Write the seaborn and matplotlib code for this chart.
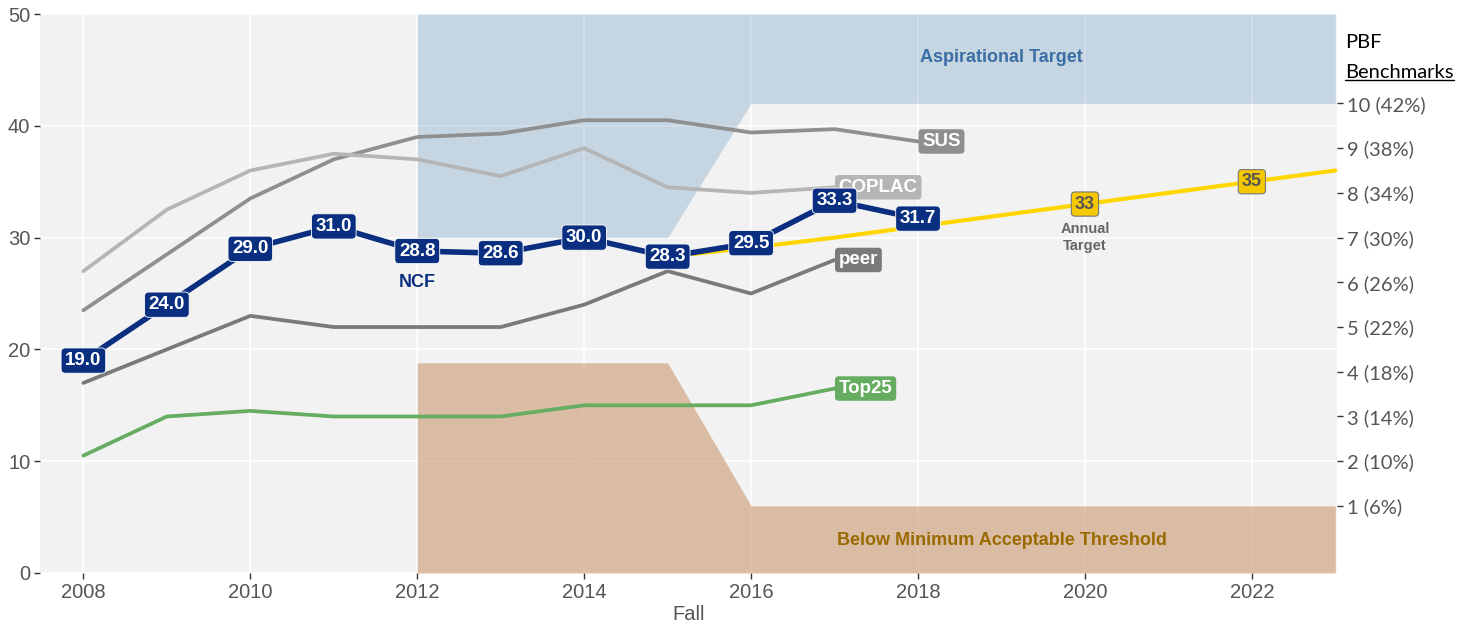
import numpy as np
import pandas as pd
import matplotlib.pyplot as plt
import seaborn as sns
from matplotlib.lines import Line2D

# data
years = list(range(2008, 2019))
ncf = [19.0, 24.0, 29.0, 31.0, 28.8, 28.6, 30.0, 28.3, 29.5, 33.3, 31.7]
sus = [23.5, 28.5, 33.5, 37.0, 39.0, 39.3, 40.5, 40.5, 39.4, 39.7, 38.6]
years_short = list(range(2008, 2018))
coplac = [27.0, 32.5, 36.0, 37.5, 37.0, 35.5, 38.0, 34.5, 34.0, 34.5]
peer = [17.0, 20.0, 23.0, 22.0, 22.0, 22.0, 24.0, 27.0, 25.0, 28.0]
top25 = [10.5, 14.0, 14.5, 14.0, 14.0, 14.0, 15.0, 15.0, 15.0, 16.5]
target_years = list(range(2015, 2024))
target = [28.3, 29.1, 30.0, 31.0, 32.0, 33.0, 34.0, 35.0, 36.0]
target_labeled = {2020: 33, 2022: 35}

band_x = [2012, 2015, 2016, 2023]
aspir_low = [30, 30, 42, 42]
below_high = [18.8, 18.8, 6, 6]

pbf_pos = [6, 10, 14, 18, 22, 26, 30, 34, 38, 42]
pbf_labels = ["1 (6%)", "2 (10%)", "3 (14%)", "4 (18%)", "5 (22%)",
              "6 (26%)", "7 (30%)", "8 (34%)", "9 (38%)", "10 (42%)"]

colors = {"SUS": "#8f8f8f", "COPLAC": "#b5b5b5", "peer": "#7a7a7a",
          "Top25": "#66ad62", "NCF": "#0a2f80", "target": "#ffd700"}

sns.set_theme(style="darkgrid", rc={"axes.facecolor": "#f2f2f2",
                                    "grid.color": "white", "grid.linewidth": 1.2})
plt.rcParams["font.family"] = ["Liberation Sans", "DejaVu Sans"]

others = pd.concat([
    pd.DataFrame({"year": years, "value": sus, "group": "SUS"}),
    pd.DataFrame({"year": years_short, "value": coplac, "group": "COPLAC"}),
    pd.DataFrame({"year": years_short, "value": peer, "group": "peer"}),
    pd.DataFrame({"year": years_short, "value": top25, "group": "Top25"}),
])

fig = plt.figure(figsize=(14.67, 6.26), dpi=100)
ax = fig.add_axes([40 / 1467, 1 - 573 / 626, 1297 / 1467, 559 / 626])

ax.fill_between(band_x, aspir_low, 50, color="#4682b4", alpha=0.25, lw=0, zorder=1)
ax.fill_between(band_x, 0, below_high, color="#c69062", alpha=0.55, lw=0, zorder=1)

sns.lineplot(data=others, x="year", y="value", hue="group", palette=colors,
             linewidth=2.7, legend=False, ax=ax, zorder=3)
sns.lineplot(x=target_years, y=target, color=colors["target"], linewidth=3,
             ax=ax, zorder=4)
sns.lineplot(x=years, y=ncf, color=colors["NCF"], linewidth=4, ax=ax, zorder=5)

for x, v in zip(years, ncf):
    ax.text(x, v, f"{v:.1f}", ha="center", va="center", color="white",
            fontsize=13.5, fontweight="bold", zorder=7,
            bbox=dict(boxstyle="round,pad=0.22", fc=colors["NCF"], ec="white", lw=0.6))

for x, v in target_labeled.items():
    ax.text(x, v, f"{v}", ha="center", va="center", color="#555555",
            fontsize=13, fontweight="bold", zorder=7,
            bbox=dict(boxstyle="round,pad=0.2", fc="#f5c800", ec="#777777", lw=0.8))

end_labels = [("SUS", 2018, sus[-1]), ("COPLAC", 2017, coplac[-1]),
              ("peer", 2017, peer[-1]), ("Top25", 2017, top25[-1])]
for name, x, v in end_labels:
    ax.text(x + 0.05, v, name, ha="left", va="center", color="white",
            fontsize=13.5, fontweight="bold", zorder=6,
            bbox=dict(boxstyle="round,pad=0.2", fc=colors[name], ec="none"))

ax.text(2012, 26, "NCF", ha="center", va="center", color=colors["NCF"],
        fontsize=13, fontweight="bold")
ax.text(2020, 30, "Annual\nTarget", ha="center", va="center", color="#666666",
        fontsize=10.5, fontweight="bold", linespacing=1.3)
ax.text(2019, 46.1, "Aspirational Target", ha="center", va="center",
        color="#3a6ea5", fontsize=13, fontweight="bold")
ax.text(2019, 2.95, "Below Minimum Acceptable Threshold", ha="center", va="center",
        color="#9a6a00", fontsize=13, fontweight="bold")

ax.set_xlim(2007.48, 2023.02)
ax.set_ylim(0, 50)
ax.set_xticks(range(2008, 2023, 2))
ax.set_yticks(range(0, 51, 10))
ax.tick_params(axis="both", colors="#333333", labelcolor="#555555",
               labelsize=14.5, length=4, width=1, direction="out",
               bottom=True, left=True, pad=3)
ax.set_xlabel("Fall", color="#555555", fontsize=14.5, labelpad=2)
ax.set_ylabel("")
ax.grid(True, which="major")
for s in ax.spines.values():
    s.set_visible(False)

ax2 = ax.twinx()
ax2.set_ylim(0, 50)
ax2.set_yticks(pbf_pos)
ax2.set_yticklabels(pbf_labels, family=["Lato", "DejaVu Sans"])
ax2.tick_params(axis="y", colors="#333333", labelcolor="#555555",
                labelsize=14.5, length=4, width=1, right=True, pad=3)
ax2.grid(False)
for s in ax2.spines.values():
    s.set_visible(False)

fig.text(1345 / 1467, 1 - 42 / 626, "PBF", ha="left", va="center",
         fontsize=14.5, color="black", family=["Lato", "DejaVu Sans"])
bm = fig.text(1345 / 1467, 1 - 73 / 626, "Benchmarks", ha="left", va="center",
              fontsize=14.5, color="black", family=["Lato", "DejaVu Sans"])

fig.canvas.draw()
bb = bm.get_window_extent().transformed(fig.transFigure.inverted())
fig.add_artist(Line2D([bb.x0, bb.x1], [bb.y0 + 0.002, bb.y0 + 0.002],
                      transform=fig.transFigure, color="black", lw=1))

fig.savefig("out.png", dpi=100)
